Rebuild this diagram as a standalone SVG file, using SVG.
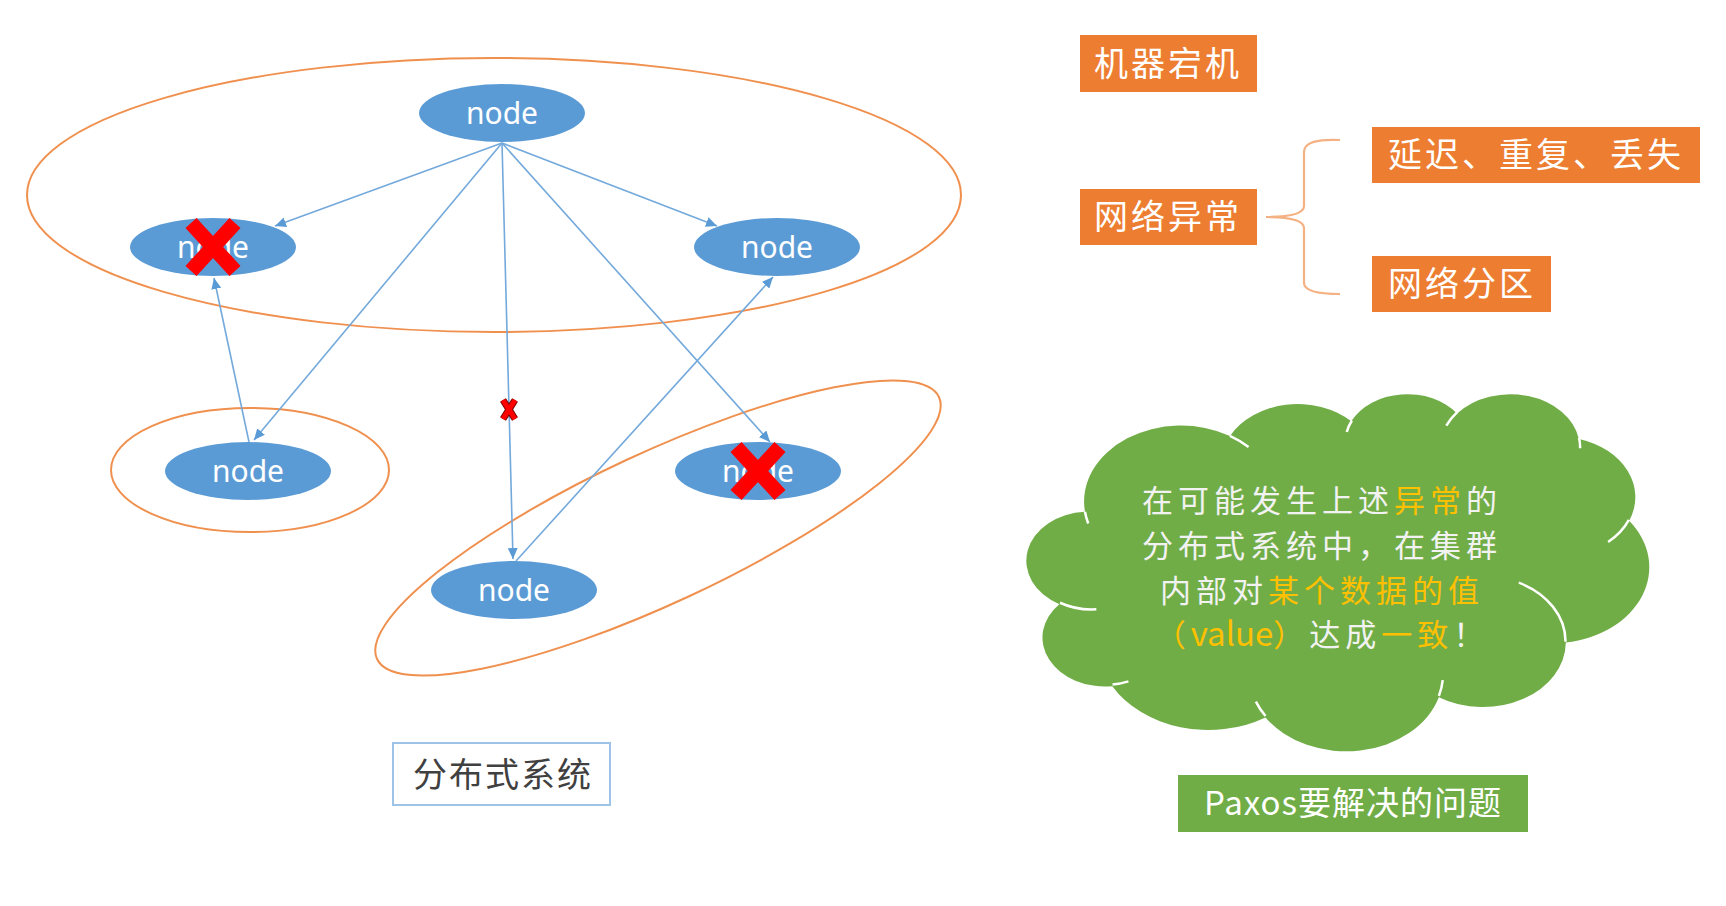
<svg xmlns="http://www.w3.org/2000/svg" width="1726" height="906" viewBox="0 0 1726 906">
<style>
.grp{fill:none;stroke:#F0904F;stroke-width:2}
.node{fill:#5B9BD5}
.ntxt{font-family:'Noto Sans','Liberation Sans',sans-serif;font-size:30px;fill:#FFFFFF;text-anchor:middle}
.conn{fill:none;stroke:#74A9DB;stroke-width:1.6}
.xbig{stroke:#FF0000;stroke-width:15;stroke-linecap:butt}
.obox{fill:#ED7D31}
.otxt{font-family:'Noto Sans CJK SC',sans-serif;font-size:34px;letter-spacing:3px;fill:#FFFFFF;text-anchor:middle}
.ctxt{font-family:'Noto Sans CJK SC',sans-serif;font-size:31px;letter-spacing:5px;fill:#F2F2F2;text-anchor:middle}
.hl{fill:#FFC000}
.lat{letter-spacing:0px;font-size:33px}
</style>
<defs>
<marker id="arr" markerUnits="userSpaceOnUse" markerWidth="12" markerHeight="10" refX="11" refY="5" orient="auto">
<path d="M0,0 L11,5 L0,10 Z" fill="#5B9BD5"/>
</marker>
</defs>
<rect width="1726" height="906" fill="#FFFFFF"/>

<g id="groups">
<ellipse class="grp" cx="494" cy="195" rx="467" ry="137"/>
<ellipse class="grp" cx="250" cy="470" rx="139" ry="62"/>
<ellipse class="grp" cx="0" cy="0" rx="310" ry="75" transform="translate(658,528) rotate(-25)"/>
</g>

<g id="connectors">
<line class="conn" x1="502" y1="143" x2="275" y2="226" marker-end="url(#arr)"/>
<line class="conn" x1="502" y1="143" x2="717" y2="226" marker-end="url(#arr)"/>
<line class="conn" x1="502" y1="143" x2="254" y2="440" marker-end="url(#arr)"/>
<line class="conn" x1="502" y1="143" x2="513" y2="559" marker-end="url(#arr)"/>
<line class="conn" x1="502" y1="143" x2="770" y2="442" marker-end="url(#arr)"/>
<line class="conn" x1="249" y1="442" x2="214" y2="278" marker-end="url(#arr)"/>
<line class="conn" x1="516" y1="561" x2="773" y2="277" marker-end="url(#arr)"/>
</g>

<g id="node-top"><ellipse class="node" cx="502" cy="113" rx="83" ry="29"/><text class="ntxt" x="502" y="124">node</text></g>
<g id="node-left"><ellipse class="node" cx="213" cy="247" rx="83" ry="29"/><text class="ntxt" x="213" y="258">node</text>
<line class="xbig" x1="191" y1="223" x2="235" y2="271"/><line class="xbig" x1="235" y1="223" x2="191" y2="271"/></g>
<g id="node-right"><ellipse class="node" cx="777" cy="247" rx="83" ry="29"/><text class="ntxt" x="777" y="258">node</text></g>
<g id="node-bl"><ellipse class="node" cx="248" cy="471" rx="83" ry="29"/><text class="ntxt" x="248" y="482">node</text></g>
<g id="node-br"><ellipse class="node" cx="758" cy="471" rx="83" ry="29"/><text class="ntxt" x="758" y="482">node</text>
<line class="xbig" x1="736" y1="447" x2="780" y2="495"/><line class="xbig" x1="780" y1="447" x2="736" y2="495"/></g>
<g id="node-bottom"><ellipse class="node" cx="514" cy="590" rx="83" ry="29"/><text class="ntxt" x="514" y="601">node</text></g>

<g id="link-break">
<line x1="503" y1="400" x2="515" y2="419" stroke="#7A0000" stroke-width="7"/>
<line x1="515" y1="400" x2="503" y2="419" stroke="#7A0000" stroke-width="7"/>
<line x1="503" y1="400" x2="515" y2="419" stroke="#FF0000" stroke-width="5"/>
<line x1="515" y1="400" x2="503" y2="419" stroke="#FF0000" stroke-width="5"/>
</g>

<g id="label-system">
<rect x="393" y="743" width="217" height="62" fill="#FFFFFF" stroke="#9DC3E6" stroke-width="2"/>
<text x="503" y="787" font-family="'Noto Sans CJK SC',sans-serif" font-size="34" letter-spacing="2" fill="#404040" text-anchor="middle">分布式系统</text>
</g>

<g id="box-crash"><rect class="obox" x="1080" y="35" width="177" height="57"/><text class="otxt" x="1168" y="76">机器宕机</text></g>
<g id="box-net"><rect class="obox" x="1080" y="189" width="177" height="56"/><text class="otxt" x="1168" y="229">网络异常</text></g>
<g id="box-delay"><rect class="obox" x="1372" y="127" width="328" height="56"/><text class="otxt" x="1536" y="167">延迟、重复、丢失</text></g>
<g id="box-part"><rect class="obox" x="1372" y="256" width="179" height="56"/><text class="otxt" x="1462" y="296">网络分区</text></g>

<g id="brace">
<path d="M1340,140 C1318,139 1304,142 1304,152 L1304,206 C1304,214 1290,217 1266,217 C1290,217 1304,220 1304,228 L1304,283 C1304,291 1318,294 1340,294" fill="none" stroke="#F4B183" stroke-width="2.2"/>
</g>

<g id="cloud">
<path d="M1084.97,511.75 A96.92,75.95 0 0 1 1230.00,435.99 A76.54,60.05 0 0 1 1351.28,421.37 A62.65,49.13 0 0 1 1457.15,413.51 A69.71,54.50 0 0 1 1578.93,439.09 A76.54,60.10 0 0 1 1629.16,520.76 A97.23,76.19 0 0 1 1565.82,642.61 A83.03,65.01 0 0 1 1438.83,697.23 A96.90,76.15 0 0 1 1265.53,717.50 A110.80,87.13 0 0 1 1112.30,686.13 A62.57,48.91 0 0 1 1059.33,604.14 A62.36,49.13 0 0 1 1084.97,511.75 Z" fill="#70AD47"/>
<path d="M1096.35,609.32 A62.36,49.13 0 0 1 1060.00,602.74 M1128.43,681.40 A62.57,48.91 0 0 1 1112.53,684.56 M1265.49,716.04 A96.90,76.15 0 0 1 1255.89,701.65 M1442.72,680.18 A96.90,76.15 0 0 1 1438.89,695.95 M1518.82,582.69 A83.03,65.01 0 0 1 1565.48,641.65 M1628.88,519.88 A76.54,60.10 0 0 1 1608.10,542.00 M1579.02,437.84 A69.71,54.50 0 0 1 1580.12,448.28 M1446.33,425.66 A69.71,54.50 0 0 1 1456.98,412.33 M1346.77,432.01 A62.65,49.13 0 0 1 1351.92,420.52 M1229.93,435.91 A96.92,75.95 0 0 1 1248.58,447.05 M1088.23,523.48 A96.92,75.95 0 0 1 1084.97,511.75" fill="none" stroke="#FFFFFF" stroke-width="2.5"/>
<text class="ctxt" x="1322" y="512">在可能发生上述<tspan class="hl">异常</tspan>的</text>
<text class="ctxt" x="1322" y="557">分布式系统中，在集群</text>
<text class="ctxt" x="1322" y="602">内部对<tspan class="hl">某个数据的值</tspan></text>
<text class="ctxt" x="1322" y="646"><tspan class="hl">（</tspan><tspan class="hl lat">value</tspan><tspan class="hl">）</tspan>达成<tspan class="hl">一致</tspan>！</text>
</g>

<g id="box-paxos"><rect x="1178" y="775" width="350" height="57" fill="#70AD47"/>
<text x="1353" y="815" font-family="'Noto Sans CJK SC',sans-serif" font-size="33" letter-spacing="1" fill="#FFFFFF" text-anchor="middle">Paxos要解决的问题</text></g>
</svg>
